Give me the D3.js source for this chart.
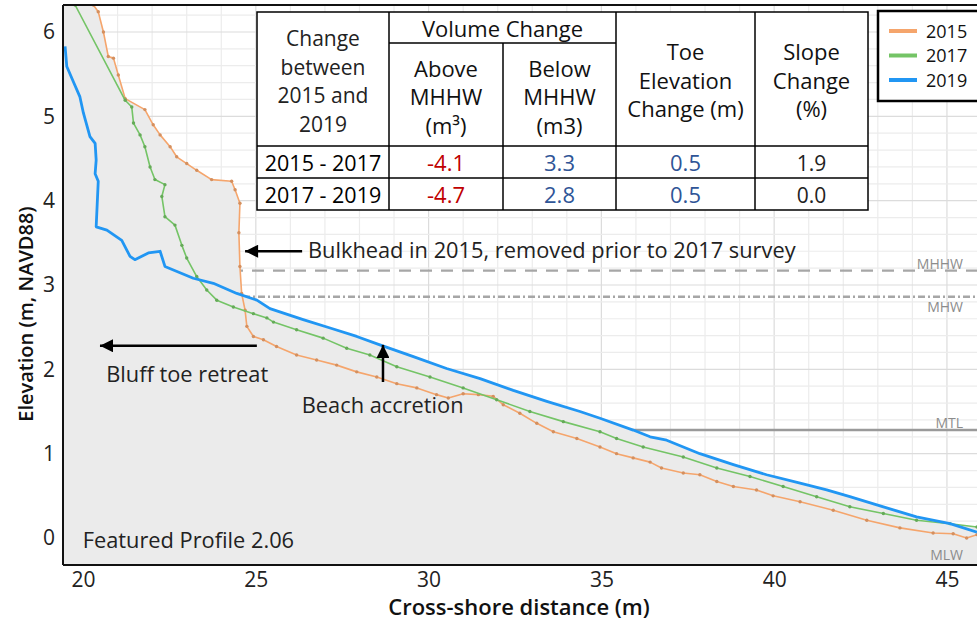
<!DOCTYPE html>
<html>
<head>
<meta charset="utf-8">
<script src="https://cdn.jsdelivr.net/npm/d3@7"></script>
<style>
  body { margin: 0; background: #fff; }
  svg { display: block; font-family: "Open Sans", "Noto Sans", sans-serif; }
</style>
</head>
<body>
<div class="chart"></div>
<script>
'use strict';

// axis ticks
var xTicks = [20, 25, 30, 35, 40, 45];
var yTicks = [0, 1, 2, 3, 4, 5, 6];

// survey profiles, [cross-shore distance (m), elevation (m NAVD88)]
var years = ["2015", "2017", "2019"];
var profile2015 = [[20.30,6.32],[20.44,6.24],[20.59,6.00],[20.73,5.71],[20.88,5.69],[21.02,5.49],[21.22,5.21],
  [21.79,5.08],[22.03,4.90],[22.23,4.78],[22.52,4.64],[22.71,4.52],[23.00,4.44],[23.29,4.36],[23.72,4.25],
  [24.30,4.23],[24.40,4.13],[24.54,3.97],[24.51,3.62],[24.54,3.22],[24.59,2.90],[24.69,2.70],[24.74,2.51],
  [24.93,2.39],[25.22,2.35],[25.60,2.27],[26.18,2.17],[26.76,2.11],[27.34,2.05],[27.92,1.97],[28.50,1.91],
  [29.08,1.83],[29.66,1.78],[30.23,1.70],[30.57,1.66],[31.00,1.71],[31.44,1.70],[31.87,1.68],[32.16,1.58],
  [32.64,1.48],[33.13,1.36],[33.61,1.26],[34.29,1.18],[34.96,1.08],[35.44,1.00],[35.92,0.95],[36.41,0.90],
  [36.74,0.83],[37.37,0.77],[37.85,0.75],[38.34,0.67],[38.82,0.61],[39.49,0.57],[39.97,0.50],[40.75,0.43],
  [41.71,0.33],[42.68,0.21],[43.64,0.12],[44.60,0.06],[45.18,0.05],[45.57,0.00],[45.87,0.04]];
var profile2017 = [[19.77,6.32],[21.22,5.19],[21.41,5.11],[21.46,4.92],[21.65,4.78],[21.79,4.64],[21.94,4.40],
  [22.08,4.25],[22.37,4.19],[22.28,4.05],[22.37,3.81],[22.66,3.71],[22.86,3.47],[23.00,3.32],[23.29,3.10],
  [23.58,2.94],[23.87,2.82],[24.35,2.74],[24.93,2.66],[25.32,2.61],[25.51,2.56],[26.18,2.47],[26.95,2.37],
  [27.63,2.25],[28.30,2.17],[29.08,2.03],[30.04,1.91],[31.00,1.78],[31.97,1.64],[32.93,1.50],[33.90,1.38],
  [34.96,1.26],[35.44,1.18],[36.21,1.08],[37.37,0.96],[38.34,0.83],[39.30,0.73],[40.26,0.61],[41.23,0.49],
  [42.19,0.37],[43.16,0.29],[44.12,0.21],[45.09,0.17],[45.87,0.13]];
var profile2019 = [[19.48,5.83],[19.53,5.59],[19.72,5.41],[19.91,5.23],[20.01,5.04],[20.20,4.76],[20.35,4.68],
  [20.38,4.48],[20.35,4.32],[20.44,4.23],[20.38,3.69],[20.69,3.65],[21.12,3.53],[21.36,3.34],[21.50,3.30],
  [21.89,3.38],[22.23,3.40],[22.37,3.22],[23.19,3.08],[23.77,3.02],[24.45,2.90],[25.03,2.82],[25.41,2.72],
  [26.37,2.59],[27.15,2.49],[27.92,2.39],[28.59,2.29],[29.56,2.15],[30.52,2.01],[31.49,1.89],[32.45,1.75],
  [33.42,1.62],[34.38,1.50],[34.96,1.42],[35.92,1.28],[36.41,1.20],[36.89,1.16],[37.85,1.00],[38.82,0.87],
  [39.78,0.75],[40.75,0.65],[41.52,0.57],[42.19,0.49],[43.16,0.37],[44.12,0.25],[45.09,0.17],[45.87,0.07]];
var profiles = [profile2015, profile2017, profile2019];

// tidal datums (m NAVD88)
var tideNames = ["MHHW", "MHW", "MTL", "MLW"];
var tideLevels = [3.17, 2.86, 1.28, -0.08];

// summary table
var headChange = ["Change", "between", "2015 and", "2019"];
var headVolume = "Volume Change";
var headAbove = ["Above", "MHHW", "(m\u00B3)"];
var headBelow = ["Below", "MHHW", "(m3)"];
var headToe = ["Toe", "Elevation", "Change (m)"];
var headSlope = ["Slope", "Change", "(%)"];
var periods = ["2015 - 2017", "2017 - 2019"];
var volAbove = ["-4.1", "-4.7"];
var volBelow = ["3.3", "2.8"];
var toeChange = ["0.5", "0.5"];
var slopeChange = ["1.9", "0.0"];

var colors = ["#f5a56c", "#74c466", "#2196f3"];
var widths = [1.6, 1.6, 2.8];

var W = 977, H = 621;
var plot = {left: 63, top: 5, right: 977, bottom: 565};

var svg = d3.select(".chart").append("svg")
    .attr("width", W).attr("height", H);

var x = d3.scaleLinear().domain([19.42, 45.87]).range([plot.left, plot.right]);
var y = d3.scaleLinear().domain([-0.32, 6.32]).range([plot.bottom, plot.top]);

svg.append("defs").append("clipPath").attr("id", "clip")
   .append("rect")
   .attr("x", plot.left).attr("y", plot.top)
   .attr("width", plot.right - plot.left).attr("height", plot.bottom - plot.top);

var g = svg.append("g").attr("clip-path", "url(#clip)");

// grid: minor every 1 m / 0.2 m, major at ticks
var xMinor = d3.range(20, 46, 1);
var yMinor = d3.range(-0.2, 6.4, 0.2);
g.selectAll("line.vminor").data(xMinor).enter().append("line")
   .attr("x1", x).attr("x2", x).attr("y1", plot.top).attr("y2", plot.bottom)
   .attr("stroke", function(d){ return xTicks.indexOf(d) >= 0 ? "#dcdcdc" : "#ececec"; })
   .attr("stroke-width", 1.2);
g.selectAll("line.hminor").data(yMinor).enter().append("line")
   .attr("y1", y).attr("y2", y).attr("x1", plot.left).attr("x2", plot.right)
   .attr("stroke", function(d){ return Math.abs(d - Math.round(d)) < 1e-6 ? "#dcdcdc" : "#ececec"; })
   .attr("stroke-width", 1.2);

// tidal datum lines (under the sediment fill)
var tideDash = ["12,9", "7,3,2,3", null, "12,9"];
var tideColor = ["#a6a6a6", "#a6a6a6", "#9a9a9a", "#a6a6a6"];
g.selectAll("line.tide").data(tideLevels).enter().append("line")
   .attr("x1", plot.left).attr("x2", plot.right)
   .attr("y1", y).attr("y2", y)
   .attr("stroke", function(d, i){ return tideColor[i]; })
   .attr("stroke-width", 2.4)
   .attr("stroke-dasharray", function(d, i){ return tideDash[i]; });

// grey fill under every profile, reaching back to the landward edge
var area = d3.area()
    .x(function(d){ return x(d[0]); })
    .y0(plot.bottom)
    .y1(function(d){ return y(d[1]); });
profiles.forEach(function(p){
   var pts = [[x.domain()[0], p[0][1]]].concat(p);
   g.append("path").datum(pts).attr("d", area).attr("fill", "#ebebeb");
});
// top-left corner behind the bluff
g.append("path")
   .datum([[x.domain()[0], y.domain()[1]], profile2017[0], profile2019[0], [x.domain()[0], profile2019[0][1]]])
   .attr("d", d3.line().x(function(d){ return x(d[0]); }).y(function(d){ return y(d[1]); }))
   .attr("fill", "#ebebeb");

// profile lines
var line = d3.line().x(function(d){ return x(d[0]); }).y(function(d){ return y(d[1]); });
profiles.forEach(function(p, i){
   g.append("path").datum(p).attr("d", line)
      .attr("fill", "none").attr("stroke", colors[i])
      .attr("stroke-width", widths[i]).attr("stroke-linejoin", "round");
   if (i < 2) {
      g.selectAll("circle.m" + i).data(p).enter().append("circle")
         .attr("cx", function(d){ return x(d[0]); })
         .attr("cy", function(d){ return y(d[1]); })
         .attr("r", 1.7)
         .attr("fill", d3.color(colors[i]).darker(0.4));
   }
});

// datum labels
var tideLabelAbove = [true, false, true, false];
g.selectAll("text.tide").data(tideLevels).enter().append("text")
   .attr("x", 963)
   .attr("y", function(d, i){ return tideLabelAbove[i] ? y(d) - 2 : y(d) + 15; })
   .attr("text-anchor", "end")
   .attr("font-size", 14)
   .attr("fill", "#8c8c8c")
   .text(function(d, i){ return tideNames[i]; });

// frame
svg.append("line").attr("x1", plot.left).attr("x2", plot.left).attr("y1", plot.top).attr("y2", plot.bottom)
   .attr("stroke", "#111").attr("stroke-width", 2);
svg.append("line").attr("x1", plot.left).attr("x2", plot.right).attr("y1", plot.bottom).attr("y2", plot.bottom)
   .attr("stroke", "#111").attr("stroke-width", 2);
svg.append("line").attr("x1", plot.left).attr("x2", plot.right).attr("y1", plot.top).attr("y2", plot.top)
   .attr("stroke", "#111").attr("stroke-width", 2);

// axes
var xAxis = svg.append("g").attr("transform", "translate(0," + plot.bottom + ")")
   .call(d3.axisBottom(x).tickValues(xTicks).tickSize(0).tickPadding(7).tickFormat(d3.format("d")));
var yAxis = svg.append("g").attr("transform", "translate(" + plot.left + ",0)")
   .call(d3.axisLeft(y).tickValues(yTicks).tickSize(0).tickPadding(8).tickFormat(d3.format("d")));
[xAxis, yAxis].forEach(function(a){
   a.select(".domain").remove();
   a.selectAll("text").attr("font-size", 21).attr("fill", "#222")
      .attr("font-family", "'Open Sans', sans-serif");
});

svg.append("text").attr("x", 519).attr("y", 615).attr("text-anchor", "middle")
   .attr("font-size", 22).attr("font-weight", 600).attr("fill", "#111")
   .text("Cross-shore distance (m)");
svg.append("text").attr("transform", "translate(33,314) rotate(-90)").attr("text-anchor", "middle")
   .attr("font-size", 20).attr("font-weight", 600).attr("fill", "#111")
   .text("Elevation (m, NAVD88)");

// annotations
svg.append("defs").append("marker").attr("id", "head")
   .attr("viewBox", "0 0 10 10").attr("refX", 10).attr("refY", 5)
   .attr("markerUnits", "userSpaceOnUse").attr("markerWidth", 16).attr("markerHeight", 13)
   .attr("orient", "auto")
   .append("path").attr("d", "M0,0L10,5L0,10z").attr("fill", "#000");

var arrows = [
   {from: [26.34, 3.40], to: [24.69, 3.40]},
   {from: [25.03, 2.28], to: [20.49, 2.28]},
   {from: [28.68, 1.85], to: [28.68, 2.29]}
];
svg.selectAll("line.arrow").data(arrows).enter().append("line")
   .attr("x1", function(d){ return x(d.from[0]); }).attr("y1", function(d){ return y(d.from[1]); })
   .attr("x2", function(d){ return x(d.to[0]); }).attr("y2", function(d){ return y(d.to[1]); })
   .attr("stroke", "#000").attr("stroke-width", 2.5)
   .attr("marker-end", "url(#head)");

var notes = [
   {text: "Bulkhead in 2015, removed prior to 2017 survey", at: [26.51, 3.32]},
   {text: "Bluff toe retreat", at: [20.67, 1.85]},
   {text: "Beach accretion", at: [26.33, 1.48]},
   {text: "Featured Profile 2.06", at: [19.99, -0.12]}
];
svg.selectAll("text.note").data(notes).enter().append("text")
   .attr("x", function(d){ return x(d.at[0]); })
   .attr("y", function(d){ return y(d.at[1]); })
   .attr("font-size", 21.8).attr("fill", "#222")
   .text(function(d){ return d.text; });

// legend
var leg = svg.append("g");
leg.append("rect").attr("x", 878).attr("y", 11).attr("width", 120).attr("height", 90)
   .attr("fill", "#fff").attr("stroke", "#000").attr("stroke-width", 2.5);
years.forEach(function(yr, i){
   var ly = 31 + i * 24.5;
   leg.append("line").attr("x1", 889).attr("x2", 917).attr("y1", ly).attr("y2", ly)
      .attr("stroke", colors[i]).attr("stroke-width", 4);
   leg.append("text").attr("x", 926).attr("y", ly + 6.5).attr("font-size", 18).attr("fill", "#111").text(yr);
});

// summary table
var tb = svg.append("g");
var cols = [257, 389, 503, 616, 755, 868];
var rows = [12, 43, 146, 178, 210];
tb.append("rect").attr("x", cols[0]).attr("y", rows[0])
   .attr("width", cols[5] - cols[0]).attr("height", rows[4] - rows[0])
   .attr("fill", "#fff").attr("stroke", "#000").attr("stroke-width", 1.5);
var rules = [
   [cols[1], rows[0], cols[1], rows[4]], [cols[2], rows[1], cols[2], rows[4]],
   [cols[3], rows[0], cols[3], rows[4]], [cols[4], rows[0], cols[4], rows[4]],
   [cols[1], rows[1], cols[3], rows[1]], [cols[0], rows[2], cols[5], rows[2]],
   [cols[0], rows[3], cols[5], rows[3]]
];
tb.selectAll("line").data(rules).enter().append("line")
   .attr("x1", function(d){ return d[0]; }).attr("y1", function(d){ return d[1]; })
   .attr("x2", function(d){ return d[2]; }).attr("y2", function(d){ return d[3]; })
   .attr("stroke", "#000").attr("stroke-width", 1.5);

function cellLines(lines, cx, y0, step, color, weight, size) {
   lines.forEach(function(t, i){
      tb.append("text").attr("x", cx).attr("y", y0 + i * (step || 0))
         .attr("text-anchor", "middle").attr("font-size", size || 22)
         .attr("font-weight", weight || 400)
         .attr("fill", color || "#111").text(t);
   });
}
function mid(a, b){ return (a + b) / 2; }
cellLines(headChange, mid(cols[0], cols[1]), 46, 28.5, "#222", 400, 21);
cellLines([headVolume], mid(cols[1], cols[3]), 37);
cellLines(headAbove, mid(cols[1], cols[2]), 77, 28.3);
cellLines(headBelow, mid(cols[2], cols[3]), 77, 28.3);
cellLines(headToe, mid(cols[3], cols[4]), 60, 28.5);
cellLines(headSlope, mid(cols[4], cols[5]), 60, 28.5);
cellLines(periods, mid(cols[0], cols[1]), 171, 32, "#000", 500, 21.5);
cellLines(volAbove, mid(cols[1], cols[2]), 171, 32, "#c00000");
cellLines(volBelow, mid(cols[2], cols[3]), 171, 32, "#2f5597");
cellLines(toeChange, mid(cols[3], cols[4]), 171, 32, "#2f5597");
cellLines(slopeChange, mid(cols[4], cols[5]), 171, 32, "#222", 400, 21);
</script>
</body>
</html>
